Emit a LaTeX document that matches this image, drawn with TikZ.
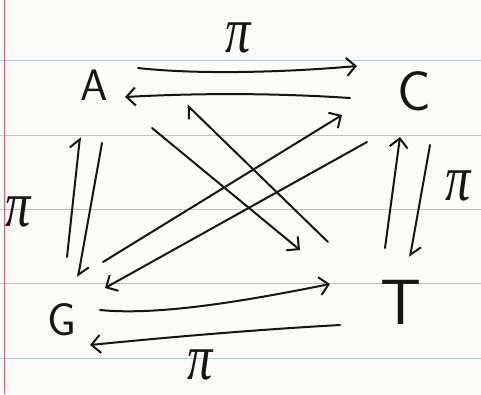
\documentclass[tikz,border=0pt]{standalone}
\usepackage{fontspec}
\newfontfamily\pifont{Liberation Serif}
\usetikzlibrary{arrows.meta,calc}
\definecolor{paper}{HTML}{FBFBF7}
\definecolor{rule}{HTML}{A9C4E6}
\definecolor{margin}{HTML}{E0607A}
\definecolor{ink}{HTML}{151515}
\begin{document}
\begin{tikzpicture}[x=1pt,y=-1pt,
  letter/.style={inner sep=0pt,font=\fontsize{44}{44}\selectfont\sffamily,text=ink},
  pilabel/.style={inner sep=0pt,font=\fontsize{48}{48}\selectfont\pifont\itshape,text=ink,xscale=1.05,yscale=1.35},
  arr/.style={draw=ink,line width=2pt,line cap=round,line join=round,
    -{Straight Barb[length=9pt,width=18pt]}},
  harr/.style={draw=ink,line width=2pt,line cap=round,line join=round,
    -{Straight Barb[left,length=9pt,width=18pt]}},
  ruled/.style={draw=rule,line width=0.9pt}]
\useasboundingbox[fill=paper] (0,0) rectangle (481,394);
% notebook rules
\foreach \yy in {60,135,209,283,358} \draw[ruled] (0,\yy) -- (481,\yy);
\draw[margin,line width=1pt] (4,0) -- (4,394);
% nodes
\node[letter] (A) at (94,85) {A};
\node[letter,font=\fontsize{56}{56}\selectfont\sffamily] (C) at (414,91) {C};
\node[letter,font=\fontsize{46}{46}\selectfont\sffamily] (G) at (62,320) {G};
\node[letter,font=\fontsize{64}{64}\selectfont\sffamily] (T) at (401,302) {T};
% pi labels
\node[pilabel] (p1) at (238,38) {π};
\node[pilabel] (p2) at (18,212) {π};
\node[pilabel] (p3) at (458,186) {π};
\node[pilabel] (p4) at (200,365) {π};
% A <-> C
\draw[arr] ($(A)+(44,-17)$) .. controls (200,75) and (290,72) .. ($(C)+(-57,-25)$);
\draw[arr] ($(C)+(-64,7)$) .. controls (260,92) and (180,94) .. ($(A)+(31,12)$);
% A <-> G
\draw[harr] ($(G)+(5,-63)$) -- ($(A)+(-14,52)$);
\draw[harr] ($(A)+(8,58)$) -- ($(G)+(16,-43)$);
% C <-> T
\draw[arr] ($(T)+(-16,-54)$) -- ($(C)+(-14,46)$);
\draw[harr] ($(C)+(16,54)$) -- ($(T)+(9,-45)$);
% G <-> T
\draw[arr] ($(G)+(38,-10)$) .. controls (160,316) and (250,300) .. ($(T)+(-71,-18)$);
\draw[arr] ($(T)+(-61,23)$) .. controls (250,330) and (160,338) .. ($(G)+(28,25)$);
% diagonals
\draw[arr] ($(A)+(58,43)$) -- ($(T)+(-101,-52)$);
\draw[harr] ($(T)+(-73,-60)$) -- ($(A)+(93,20)$);
\draw[arr] ($(G)+(41,-58)$) -- ($(C)+(-72,24)$);
\draw[arr] ($(C)+(-47,51)$) -- ($(G)+(43,-32)$);
\end{tikzpicture}
\end{document}
